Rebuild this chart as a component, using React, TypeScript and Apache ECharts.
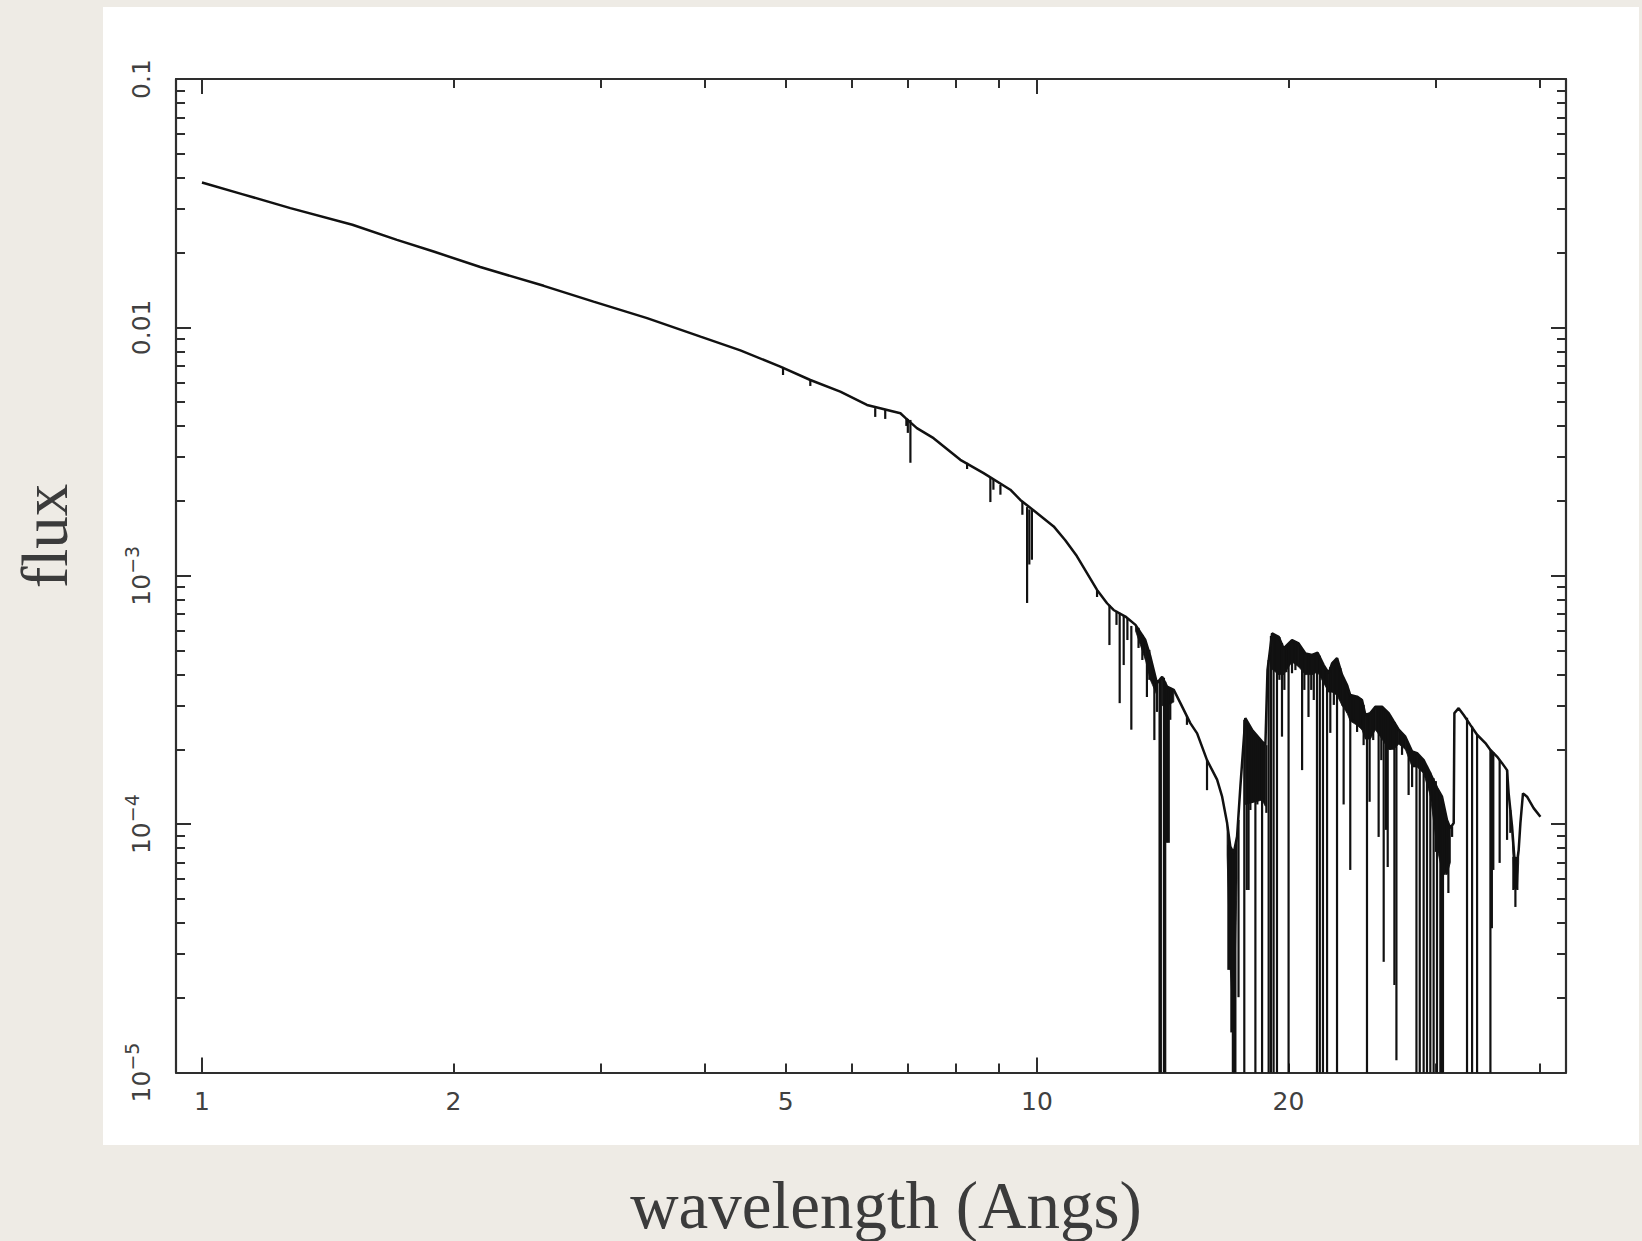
import React, { useEffect, useRef } from 'react';
import * as echarts from 'echarts';

// ---------- data (wavelength in Angstrom, flux) ----------
const contWave = [
  1.0, 1.117, 1.276, 1.514, 1.712, 1.894, 2.154, 2.566, 2.944, 3.412,
  3.954, 4.413, 4.927, 5.352, 5.813, 6.257, 6.861, 6.956, 7.18, 7.518,
  8.094, 8.63, 9.29, 9.55, 9.91, 10.47, 10.81, 11.16, 11.8, 12.13, 12.35,
  12.76, 13.12, 13.48, 13.67, 13.92, 14.12, 14.31, 14.58, 14.85, 15.26,
  15.55, 15.98, 16.43, 16.66, 16.89, 17.04, 17.2, 17.36, 17.52, 17.76,
  18.09, 18.6, 18.77, 18.88, 19.12, 19.47, 19.74, 20.2, 20.57, 20.96,
  21.35, 21.68, 22.04, 22.35, 22.56, 22.87, 23.19, 23.51, 23.72, 24.17,
  24.5, 24.73, 25.07, 25.42, 25.89, 26.37, 26.74, 27.11, 27.61, 28.13,
  28.52, 29.04, 29.58, 30.13, 30.55, 30.97, 31.26, 31.55, 31.61, 31.98,
  32.43, 33.03, 33.65, 34.43, 34.91, 35.55, 36.05, 36.55, 36.71, 37.06,
  37.29, 37.6, 37.74, 37.92, 38.19, 38.62, 39.33, 40.07,
];
const contFlux = [
  0.0383, 0.0344, 0.0302, 0.0259, 0.0225, 0.0202, 0.0175, 0.0147, 0.0127, 0.0109,
  0.00918, 0.00808, 0.00695, 0.00614, 0.00551, 0.00487, 0.00451, 0.00432, 0.00393, 0.00358,
  0.00293, 0.00259, 0.00222, 0.00202, 0.00183, 0.00158, 0.00139, 0.0012, 0.000877, 0.000775, 0.000728,
  0.000685, 0.000634, 0.000551, 0.000472, 0.000369, 0.000392, 0.000358, 0.000347, 0.000307, 0.000255,
  0.000232, 0.000181, 0.000151, 0.000129, 0.000101, 0.0000812, 0.0000764, 0.0000891, 0.000142, 0.000267,
  0.00024, 0.000215, 0.000208, 0.000417, 0.000586, 0.000568, 0.00051, 0.000551, 0.000534, 0.000487,
  0.00048, 0.00049, 0.000437, 0.000405, 0.000444, 0.000466, 0.000399, 0.000363, 0.000331, 0.000326,
  0.000316, 0.000275, 0.00028, 0.000297, 0.000297, 0.00028, 0.000259, 0.00024, 0.000225, 0.000196,
  0.000193, 0.000181, 0.00016, 0.00014, 0.000129, 0.000104, 0.0000963, 0.000101, 0.00028, 0.000293,
  0.000275, 0.000251, 0.000229, 0.000212, 0.000199, 0.000187, 0.000176, 0.000165, 0.000133, 0.0000977,
  0.0000738, 0.0000718, 0.0000787, 0.000101, 0.000133, 0.000129, 0.000116, 0.000107,
];

// absorption lines: wavelength, flux at the top of the line, flux at its bottom
const lineWave = [
  4.964, 5.352, 6.401, 6.58, 6.975, 7.003, 7.053, 8.246, 8.793, 8.867,
  9.04, 9.604, 9.73, 9.79, 9.86, 11.8, 12.21, 12.45, 12.56, 12.7,
  12.83, 12.97, 13.23, 13.37, 13.54, 13.63, 13.82, 13.92, 14.02, 14.07,
  14.19, 14.24, 14.31, 14.38, 14.44, 15.12, 15.98, 16.95, 17.02, 17.09,
  17.16, 17.23, 17.28, 17.43, 17.71, 17.83, 17.92, 18.01, 18.09, 18.18,
  18.26, 18.36, 18.48, 18.6, 18.68, 18.82, 18.94, 19.06, 19.2, 19.38,
  19.51, 19.65, 19.78, 19.89, 20.01, 20.2, 20.39, 20.77, 20.9, 21.14,
  21.3, 21.45, 21.64, 21.81, 22.0, 22.25, 22.45, 22.67, 22.87, 23.08,
  23.29, 23.51, 23.72, 23.93, 24.17, 24.39, 24.61, 24.84, 25.02, 25.27,
  25.65, 25.84, 26.01, 26.17, 26.3, 26.49, 26.79, 26.94, 27.36, 27.86,
  28.13, 28.47, 28.73, 29.04, 29.31, 29.58, 29.85, 30.03, 30.13, 30.41,
  30.53, 30.63, 30.74, 30.92, 31.09, 31.41, 32.73, 33.19, 33.65, 34.91,
  35.05, 35.19, 35.81, 36.55, 36.88, 37.19, 37.4, 37.6,
];
const lineTop = [
  0.00693, 0.00614, 0.00473, 0.00465, 0.00432, 0.00428, 0.00424, 0.00285, 0.00248, 0.00245,
  0.00232, 0.002, 0.00189, 0.00185, 0.00184, 0.000877, 0.000763, 0.000722, 0.000709, 0.000689,
  0.000676, 0.000628, 0.000617, 0.000578, 0.000526, 0.000503, 0.000381, 0.00037, 0.000381, 0.000388,
  0.000388, 0.000374, 0.00036, 0.000354, 0.000354, 0.000273, 0.000181, 0.0000825, 0.000081, 0.0000787,
  0.0000766, 0.0000773, 0.0000825, 0.000104, 0.000263, 0.000258, 0.000251, 0.000244, 0.00024, 0.000233,
  0.000229, 0.000225, 0.00022, 0.000216, 0.000212, 0.000208, 0.000458, 0.000572, 0.000583, 0.000578,
  0.000567, 0.000536, 0.000512, 0.000512, 0.000526, 0.000551, 0.000546, 0.000503, 0.000489, 0.000485,
  0.00048, 0.000485, 0.000489, 0.000476, 0.000445, 0.000417, 0.000429, 0.000454, 0.000467, 0.000425,
  0.000388, 0.000363, 0.000331, 0.000328, 0.000325, 0.000322, 0.000302, 0.000275, 0.000278, 0.000288,
  0.000296, 0.000296, 0.000293, 0.000288, 0.000283, 0.000273, 0.000258, 0.000249, 0.000233, 0.000208,
  0.000195, 0.000193, 0.000188, 0.000181, 0.000171, 0.000161, 0.000153, 0.000149, 0.00014, 0.000125,
  0.000118, 0.000114, 0.00011, 0.000105, 0.0001, 0.000098, 0.000268, 0.000247, 0.000229, 0.000199,
  0.000197, 0.000195, 0.000181, 0.000165, 0.000114, 0.0000738, 0.0000731, 0.0000718,
];
const lineBottom = [
  0.00643, 0.00581, 0.00436, 0.00428, 0.00401, 0.00376, 0.00285, 0.00269, 0.00198, 0.00222,
  0.00212, 0.00176, 0.000777, 0.00111, 0.00116, 0.000821, 0.000526, 0.000634, 0.000307, 0.000437,
  0.000551, 0.00024, 0.000512, 0.000458, 0.000325, 0.000381, 0.000218, 0.000283, 0.00001, 0.00001,
  0.00001, 0.00001, 0.0000841, 0.0000841, 0.000263, 0.000251, 0.000137, 0.0000259, 0.0000259, 0.0000145,
  0.00001, 0.00001, 0.00001, 0.0000201, 0.00001, 0.0000543, 0.0000543, 0.000114, 0.000122, 0.000125,
  0.00001, 0.00012, 0.000125, 0.00001, 0.000127, 0.000111, 0.00001, 0.00001, 0.00001, 0.00001,
  0.000381, 0.000225, 0.000347, 0.000409, 0.00001, 0.000405, 0.000417, 0.000165, 0.000347, 0.00027,
  0.000347, 0.000316, 0.00001, 0.00001, 0.00001, 0.00001, 0.000233, 0.000302, 0.00001, 0.000316,
  0.00012, 0.000288, 0.0000654, 0.000263, 0.000235, 0.000251, 0.000208, 0.00001, 0.000123, 0.000218,
  0.0000888, 0.000181, 0.0000279, 0.0000948, 0.0000672, 0.000199, 0.0000225, 0.0000112, 0.00019, 0.000131,
  0.000141, 0.00001, 0.00001, 0.00001, 0.00001, 0.00001, 0.00001, 0.0000773, 0.00001, 0.00001,
  0.00001, 0.00001, 0.0000625, 0.0000625, 0.0000528, 0.0000888, 0.00001, 0.00001, 0.00001, 0.00001,
  0.0000381, 0.0000654, 0.0000698, 0.0000864, 0.0000922, 0.0000543, 0.0000464, 0.0000543,
];

// blended-line bands (solid ink under the continuum): wavelength, top flux, bottom flux, group id
const bandWave = [
  13.12, 13.48, 13.67, 13.92,
  14.12, 14.31, 14.58,
  16.89, 17.04, 17.2, 17.36,
  17.76, 18.09, 18.6, 18.77,
  19.12, 19.47, 19.74, 20.2, 20.57, 20.96, 21.35, 21.68, 22.04, 22.35,
  22.56, 22.87, 23.19, 23.51, 23.72, 24.17, 24.5, 24.73, 25.07, 25.42,
  25.89, 26.37, 26.74, 27.11, 27.61, 28.13, 28.52, 29.04, 29.58, 30.13,
  30.55, 30.97, 31.26,
  37.06, 37.29, 37.6, 37.74,
];
const bandTop = [
  0.000634, 0.000551, 0.000472, 0.000369,
  0.000392, 0.000358, 0.000347,
  0.000101, 0.0000812, 0.0000764, 0.0000891,
  0.000267, 0.00024, 0.000215, 0.000208,
  0.000586, 0.000568, 0.00051, 0.000551, 0.000534, 0.000487, 0.00048, 0.00049, 0.000437, 0.000405,
  0.000444, 0.000466, 0.000399, 0.000363, 0.000331, 0.000326, 0.000316, 0.000275, 0.00028, 0.000297,
  0.000297, 0.00028, 0.000259, 0.00024, 0.000225, 0.000196, 0.000193, 0.000181, 0.00016, 0.00014,
  0.000129, 0.000104, 0.0000963,
  0.0000977, 0.0000738, 0.0000718, 0.0000787,
];
const bandBottom = [
  0.0006, 0.00046, 0.00038, 0.00033,
  0.0003, 0.0003, 0.00031,
  0.000075, 0.000026, 0.000015, 0.00006,
  0.00012, 0.000122, 0.000125, 0.000118,
  0.00042, 0.0004, 0.0004, 0.00045, 0.00043, 0.0004, 0.0004, 0.00041, 0.00037, 0.00034,
  0.00034, 0.00033, 0.0003, 0.00028, 0.00026, 0.00025, 0.00024, 0.00022, 0.00022, 0.00024,
  0.00022, 0.0002, 0.0002, 0.00021, 0.0002, 0.00017, 0.00017, 0.00016, 0.00013, 0.00008,
  0.000065, 0.000063, 0.00007,
  0.00009, 0.000055, 0.000055, 0.00007,
];
const bandGroup = [
  1, 1, 1, 1,
  2, 2, 2,
  3, 3, 3, 3,
  4, 4, 4, 4,
  5, 5, 5, 5, 5, 5, 5, 5, 5, 5,
  5, 5, 5, 5, 5, 5, 5, 5, 5, 5,
  5, 5, 5, 5, 5, 5, 5, 5, 5, 5,
  5, 5, 5,
  6, 6, 6, 6,
];

// ---------- axes ticks / labels ----------
const xMin = 0.9309;
const xMax = 43.0;
const yMin = 1e-5;
const yMax = 0.1;
const xMajorTicks = [1, 10];
const xMinorTicks = [2, 3, 4, 5, 6, 7, 8, 9, 20, 30, 40];
const xLabelValues = [1, 2, 5, 10, 20];
const yMajorTicks = [1e-5, 1e-4, 1e-3, 1e-2, 1e-1];
const yMinorTicks = [
  2e-5, 3e-5, 4e-5, 5e-5, 6e-5, 7e-5, 8e-5, 9e-5,
  2e-4, 3e-4, 4e-4, 5e-4, 6e-4, 7e-4, 8e-4, 9e-4,
  0.002, 0.003, 0.004, 0.005, 0.006, 0.007, 0.008, 0.009,
  0.02, 0.03, 0.04, 0.05, 0.06, 0.07, 0.08, 0.09,
];
const yLabelValues = [1e-5, 1e-4, 1e-3, 1e-2, 1e-1];

const AXIS_COLOR = '#2e2e2e';
const LABEL_COLOR = '#404040';
const INK = '#111111';
const TICK_FONT = 'DejaVu Sans';

function xAxisDef(position: 'bottom' | 'top', ticks: number[], len: number, showLine: boolean, showLabel: boolean) {
  return {
    type: 'log',
    logBase: 10,
    min: xMin,
    max: xMax,
    position,
    gridIndex: 0,
    splitLine: { show: false },
    minorTick: { show: false },
    axisLine: { show: showLine, onZero: false, lineStyle: { color: AXIS_COLOR, width: 2.2 } },
    axisTick: { show: true, inside: true, length: len, customValues: ticks, lineStyle: { color: AXIS_COLOR, width: 2 } },
    axisLabel: showLabel
      ? {
          show: true,
          customValues: xLabelValues,
          margin: 16,
          fontFamily: TICK_FONT,
          fontSize: 25,
          color: LABEL_COLOR,
          formatter: (v: number) => String(Math.round(v)),
        }
      : { show: false },
  };
}

function yAxisDef(position: 'left' | 'right', ticks: number[], len: number, showLine: boolean, showLabel: boolean) {
  return {
    type: 'log',
    logBase: 10,
    min: yMin,
    max: yMax,
    position,
    gridIndex: 0,
    splitLine: { show: false },
    minorTick: { show: false },
    axisLine: { show: showLine, onZero: false, lineStyle: { color: AXIS_COLOR, width: 2.2 } },
    axisTick: { show: true, inside: true, length: len, customValues: ticks, lineStyle: { color: AXIS_COLOR, width: 2 } },
    axisLabel: showLabel
      ? {
          show: true,
          customValues: yLabelValues,
          rotate: 90,
          margin: 22,
          fontFamily: TICK_FONT,
          fontSize: 25,
          color: LABEL_COLOR,
          formatter: (v: number) => {
            const e = Math.round(Math.log10(v));
            if (e === -1) return '0.1';
            if (e === -2) return '0.01';
            return `{b|10}{s|\u2212${-e}}`;
          },
          rich: {
            b: { fontFamily: TICK_FONT, fontSize: 25, color: LABEL_COLOR, lineHeight: 32, verticalAlign: 'bottom' },
            s: { fontFamily: TICK_FONT, fontSize: 19, color: LABEL_COLOR, verticalAlign: 'top' },
          },
        }
      : { show: false },
  };
}

export default function App() {
  const ref = useRef<HTMLDivElement>(null);

  useEffect(() => {
    if (!ref.current) return;
    const chart = echarts.init(ref.current, null, { renderer: 'svg' });

    const contData = contWave.map((w, i) => [w, contFlux[i]]);
    const lineData = lineWave.map((w, i) => [w, lineTop[i], lineBottom[i]]);
    const bandData: number[][] = [];
    for (let i = 0; i + 1 < bandWave.length; i++) {
      if (bandGroup[i] !== bandGroup[i + 1]) continue;
      bandData.push([bandWave[i], bandTop[i], bandBottom[i], bandWave[i + 1], bandTop[i + 1], bandBottom[i + 1]]);
    }

    const option: any = {
      animation: false,
      backgroundColor: 'transparent',
      grid: { left: 176, top: 79, width: 1390, height: 993.5, containLabel: false },
      xAxis: [
        xAxisDef('bottom', xMinorTicks, 9, true, true),
        xAxisDef('bottom', xMajorTicks, 15, false, false),
        xAxisDef('top', xMinorTicks, 9, true, false),
        xAxisDef('top', xMajorTicks, 15, false, false),
      ],
      yAxis: [
        yAxisDef('left', yMinorTicks, 9, true, true),
        yAxisDef('left', yMajorTicks, 15, false, false),
        yAxisDef('right', yMinorTicks, 9, true, false),
        yAxisDef('right', yMajorTicks, 15, false, false),
      ],
      series: [
        {
          type: 'custom',
          name: 'blended lines',
          xAxisIndex: 0,
          yAxisIndex: 0,
          data: bandData,
          silent: true,
          encode: { x: [0, 3], y: [1, 2, 4, 5] },
          renderItem: (_params: any, api: any) => {
            const a = api.coord([api.value(0), api.value(1)]);
            const b = api.coord([api.value(3), api.value(4)]);
            const c = api.coord([api.value(3), api.value(5)]);
            const d = api.coord([api.value(0), api.value(2)]);
            return {
              type: 'polygon',
              shape: { points: [a, b, c, d] },
              style: { fill: INK, stroke: INK, lineWidth: 0.8 },
            };
          },
          z: 2,
        },
        {
          type: 'custom',
          name: 'absorption lines',
          xAxisIndex: 0,
          yAxisIndex: 0,
          data: lineData,
          silent: true,
          encode: { x: 0, y: [1, 2] },
          renderItem: (_params: any, api: any) => {
            const p1 = api.coord([api.value(0), api.value(1)]);
            const p2 = api.coord([api.value(0), api.value(2)]);
            return {
              type: 'line',
              shape: { x1: p1[0], y1: p1[1], x2: p2[0], y2: p2[1] },
              style: { stroke: INK, lineWidth: 2.2 },
            };
          },
          z: 3,
        },
        {
          type: 'line',
          name: 'continuum',
          xAxisIndex: 0,
          yAxisIndex: 0,
          data: contData,
          showSymbol: false,
          symbol: 'none',
          silent: true,
          clip: true,
          lineStyle: { color: INK, width: 2.5 },
          z: 4,
        },
      ],
      graphic: [
        {
          type: 'text',
          x: 45,
          y: 536,
          rotation: Math.PI / 2,
          style: {
            text: 'flux',
            fontFamily: 'Liberation Serif',
            fontSize: 65,
            fill: '#3b3b3b',
            align: 'center',
            verticalAlign: 'middle',
          },
        },
        {
          type: 'text',
          x: 886,
          y: 1205,
          style: {
            text: 'wavelength (Angs)',
            fontFamily: 'Liberation Serif',
            fontSize: 67,
            fill: '#3b3b3b',
            align: 'center',
            verticalAlign: 'middle',
          },
        },
      ],
    };

    chart.setOption(option);
    return () => chart.dispose();
  }, []);

  return (
    <div style={{ position: 'fixed', left: 0, top: 0, width: 1642, height: 1241, background: '#eeebe5', overflow: 'hidden' }}>
      <div style={{ position: 'absolute', left: 103, top: 7, width: 1536, height: 1138, background: '#ffffff' }} />
      <div ref={ref} style={{ position: 'absolute', left: 0, top: 0, width: 1642, height: 1241 }} />
    </div>
  );
}
